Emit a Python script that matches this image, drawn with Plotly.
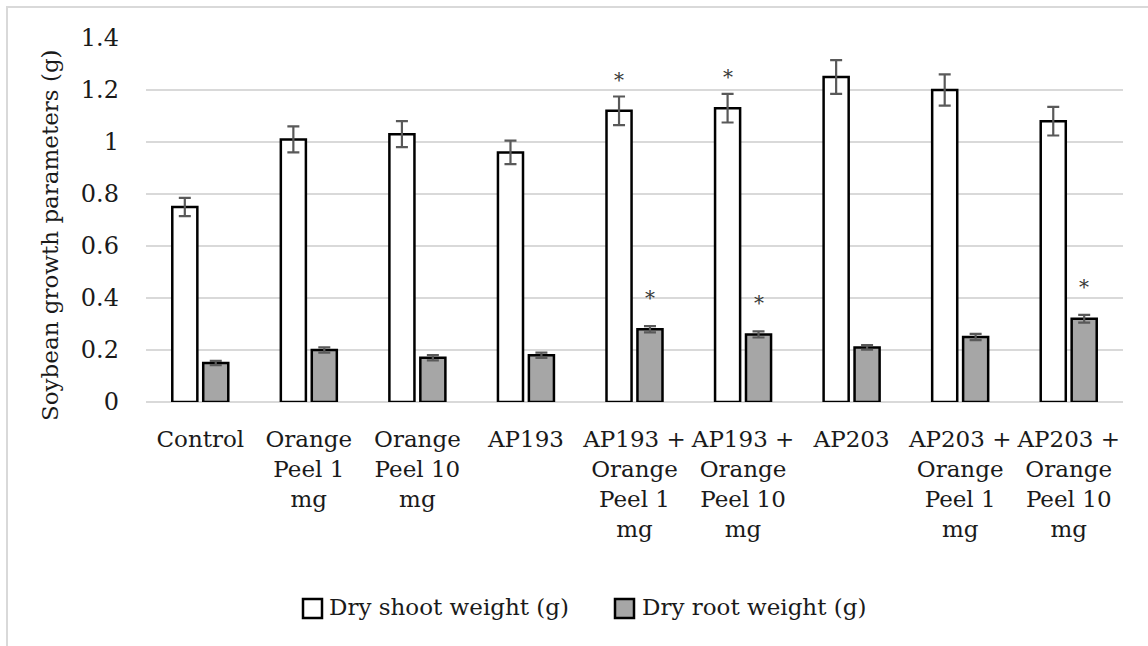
import plotly.graph_objects as go

# Treatments on the x axis (line breaks follow the printed labels)
categories = [
    "Control",
    "Orange<br>Peel 1<br>mg",
    "Orange<br>Peel 10<br>mg",
    "AP193",
    "AP193 +<br>Orange<br>Peel 1<br>mg",
    "AP193 +<br>Orange<br>Peel 10<br>mg",
    "AP203",
    "AP203 +<br>Orange<br>Peel 1<br>mg",
    "AP203 +<br>Orange<br>Peel 10<br>mg",
]

series_names = ["Dry shoot weight (g)", "Dry root weight (g)"]
y_title = "Soybean growth parameters (g)"

shoot_weight = [0.75, 1.01, 1.03, 0.96, 1.12, 1.13, 1.25, 1.20, 1.08]
shoot_error = [0.035, 0.05, 0.05, 0.045, 0.055, 0.055, 0.065, 0.06, 0.055]
shoot_signif = [False, False, False, False, True, True, False, False, False]

root_weight = [0.15, 0.20, 0.17, 0.18, 0.28, 0.26, 0.21, 0.25, 0.32]
root_error = [0.008, 0.01, 0.01, 0.01, 0.012, 0.012, 0.009, 0.012, 0.015]
root_signif = [False, False, False, False, True, True, False, False, True]

y_ticks = [0, 0.2, 0.4, 0.6, 0.8, 1, 1.2, 1.4]
y_tick_text = ["0", "0.2", "0.4", "0.6", "0.8", "1", "1.2", "1.4"]

FONT = "DejaVu Serif"
TEXT = "#1a1a1a"
GRID = "#d9d9d9"
ERR = "#595959"
STAR = "#3a3a3a"
FILLS = ["white", "#a6a6a6"]

# plot-area geometry in pixels, used to place the legend, title and frame
W, H = 1148, 646
L, R, T, B = 146, 25, 38, 244
PW, PH = W - L - R, H - T - B


def px_x(p):
    return (p - L) / PW


def px_y(p):
    return (H - B - p) / PH


fig = go.Figure()

fig.add_trace(go.Bar(
    name=series_names[0],
    x=categories, y=shoot_weight,
    marker=dict(color=FILLS[0], line=dict(color="black", width=2.5)),
    error_y=dict(type="data", array=shoot_error, color=ERR, thickness=2.2, width=6),
))
fig.add_trace(go.Bar(
    name=series_names[1],
    x=categories, y=root_weight,
    marker=dict(color=FILLS[1], line=dict(color="black", width=2.5)),
    error_y=dict(type="data", array=root_error, color=ERR, thickness=2.2, width=6),
))

# significance marks above the error bars
annotations = []
for i, cat in enumerate(categories):
    if shoot_signif[i]:
        annotations.append(dict(
            x=cat, y=shoot_weight[i] + shoot_error[i], xref="x", yref="y",
            xshift=-15.5, yshift=3, text="*", showarrow=False,
            yanchor="bottom", font=dict(family=FONT, size=20, color=STAR),
        ))
    if root_signif[i]:
        annotations.append(dict(
            x=cat, y=root_weight[i] + root_error[i], xref="x", yref="y",
            xshift=15.5, yshift=14, text="*", showarrow=False,
            yanchor="bottom", font=dict(family=FONT, size=20, color=STAR),
        ))

# vertical axis title
annotations.append(dict(
    x=px_x(50), y=px_y(235), xref="paper", yref="paper",
    xanchor="center", yanchor="middle", textangle=-90,
    text=y_title, showarrow=False,
    font=dict(family=FONT, size=23, color=TEXT),
))

# light frame around the whole chart
shapes = [dict(
    type="rect", xref="paper", yref="paper",
    x0=px_x(7), x1=px_x(W + 10), y0=px_y(H + 10), y1=px_y(7),
    line=dict(color=GRID, width=2), fillcolor="rgba(0,0,0,0)", layer="below",
)]

# legend below the axis: outlined swatch followed by its label
legend_swatch_x = [303, 615]
legend_text_x = [327, 640]
for name, fill, sx, tx in zip(series_names, FILLS, legend_swatch_x, legend_text_x):
    shapes.append(dict(
        type="rect", xref="paper", yref="paper",
        x0=px_x(sx), x1=px_x(sx + 19), y0=px_y(618), y1=px_y(599),
        line=dict(color="black", width=2.5), fillcolor=fill,
    ))
    annotations.append(dict(
        x=px_x(tx), y=px_y(607), xref="paper", yref="paper",
        xanchor="left", yanchor="middle", text=name, showarrow=False,
        font=dict(family=FONT, size=23, color=TEXT),
    ))

fig.update_layout(
    width=W, height=H,
    margin=dict(l=L, r=R, t=T, b=B),
    paper_bgcolor="white", plot_bgcolor="white",
    font=dict(family=FONT, size=23, color=TEXT),
    barmode="group", bargap=0.43, bargroupgap=0.19,
    showlegend=False,
    annotations=annotations,
    shapes=shapes,
)

fig.update_xaxes(
    showgrid=False, showline=False, zeroline=False, ticks="",
    tickfont=dict(family=FONT, size=23, color=TEXT),
    tickangle=0,
    ticklabelstandoff=21,
)
fig.update_yaxes(
    range=[0, 1.4], tickvals=y_ticks, ticktext=y_tick_text,
    showgrid=True, gridcolor=GRID, gridwidth=2,
    zeroline=True, zerolinecolor=GRID, zerolinewidth=2,
    showline=False, ticks="",
    tickfont=dict(family=FONT, size=24, color=TEXT),
    ticklabelstandoff=26,
)

fig.write_html("out.html")
